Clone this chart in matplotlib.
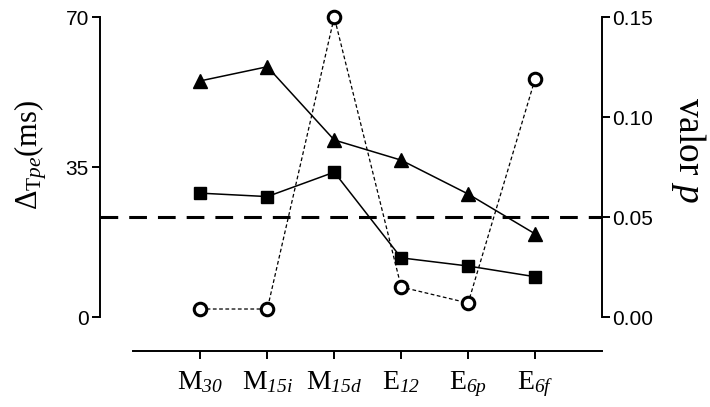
import matplotlib
matplotlib.use('Agg')
import matplotlib.pyplot as plt

plt.rcParams['mathtext.fontset'] = 'custom'
plt.rcParams['mathtext.rm'] = 'Liberation Serif'
plt.rcParams['mathtext.it'] = 'Liberation Serif:italic'
# italic digits in subscripts go through the sf slot
plt.rcParams['mathtext.sf'] = 'Liberation Serif:italic'
plt.rcParams['font.family'] = 'Liberation Sans'

groups = [r'$\mathrm{M}_{\mathsf{30}}$', r'$\mathrm{M}_{\mathsf{15i}}$', r'$\mathrm{M}_{\mathsf{15d}}$',
          r'$\mathrm{E}_{\mathsf{12}}$', r'$\mathrm{E}_{\mathsf{6p}}$', r'$\mathrm{E}_{\mathsf{6f}}$']
tpe_tri = [55.1, 58.4, 41.3, 36.6, 28.7, 19.4]
tpe_sq = [28.9, 28.1, 33.8, 13.8, 11.9, 9.4]
p_vals = [0.004, 0.004, 0.150, 0.015, 0.007, 0.119]
p_cut = 0.05

fig = plt.figure(figsize=(7.1, 4.07), dpi=100)
ax = fig.add_axes([0.1408, 0.2211, 0.7071, 0.7371])
ax2 = ax.twinx()

x = list(range(len(groups)))

ax2.axhline(p_cut, color='black', lw=2.2, dashes=(5.8, 3.6), zorder=1)
ax2.plot(x, p_vals, color='black', lw=0.9, dashes=(3, 2), marker='o', ms=9,
         mfc='white', mec='black', mew=2.2, clip_on=False, zorder=3)

ax.plot(x, tpe_tri, color='black', lw=1.1, marker='^', ms=10, clip_on=False, zorder=4)
ax.plot(x, tpe_sq, color='black', lw=1.1, marker='s', ms=8, clip_on=False, zorder=4)
ax.set_zorder(ax2.get_zorder() + 1)
ax.patch.set_visible(False)

ax.set_xlim(-1.5, 6.0)
ax.set_ylim(0, 70)
ax2.set_ylim(0, 0.15)
ax.set_yticks([0, 35, 70])
ax2.set_yticks([0.0, 0.05, 0.10, 0.15])
ax2.set_yticklabels(['0.00', '0.05', '0.10', '0.15'])

ax.set_xticks(x)
ax.set_xticklabels(groups)

for a in (ax, ax2):
    a.spines['top'].set_visible(False)
    for s in a.spines.values():
        s.set_linewidth(1.4)
ax.spines['right'].set_visible(False)
ax2.spines['left'].set_visible(False)
ax2.spines['bottom'].set_visible(False)
ax.spines['bottom'].set_position(('outward', 24.5))
ax.spines['bottom'].set_bounds(-1, 6)

ax.tick_params(axis='y', direction='out', length=6, width=1.4, labelsize=15, pad=2)
ax2.tick_params(axis='y', direction='out', length=6, width=1.4, labelsize=15, pad=1)
ax.tick_params(axis='x', direction='out', length=6, width=1.4, labelsize=20, pad=7)

ax.set_ylabel(r'$\Delta_{\mathrm{T}\mathit{pe}}$(ms)', family='Liberation Serif', fontsize=22, labelpad=12)
ax2.set_ylabel(r'valor $\mathit{p}$', family='Liberation Serif', fontsize=27, rotation=270, labelpad=40)
ax.yaxis.label.set_y(0.54)
ax2.yaxis.label.set_y(0.555)

fig.savefig('out.png', dpi=100)
